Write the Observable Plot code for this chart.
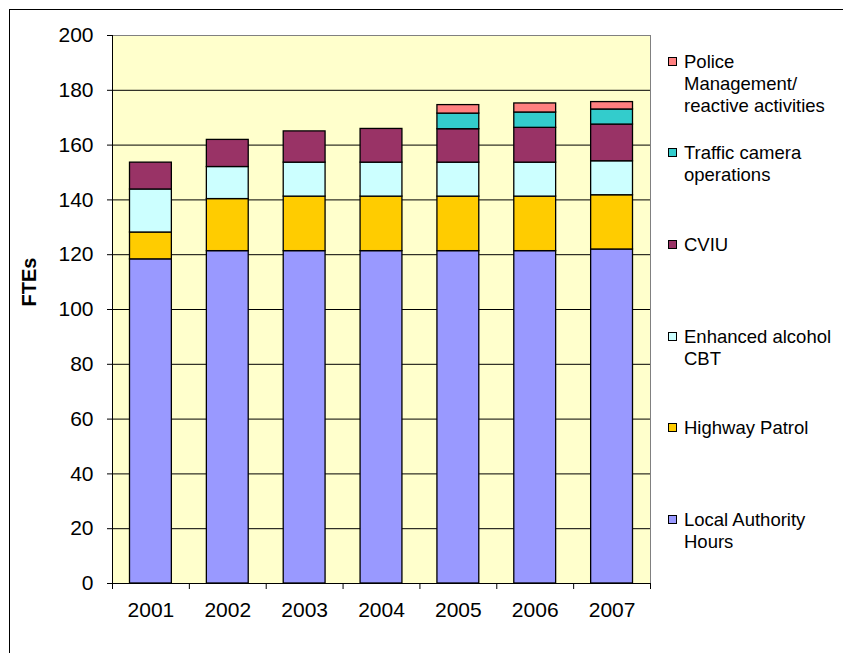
<!DOCTYPE html>
<html>
<head>
<meta charset="utf-8">
<script src="https://cdn.jsdelivr.net/npm/d3@7"></script>
<script src="https://cdn.jsdelivr.net/npm/@observablehq/plot@0.6"></script>
<style>
  html, body { margin: 0; padding: 0; background: #fff; overflow: hidden; }
  #wrap { position: relative; width: 843px; height: 653px; overflow: hidden; font-family: "Liberation Sans", Arial, sans-serif; }
  #wrap svg { position: absolute; left: 0; top: 0; }
  #border { position: absolute; left: 9px; top: 9px; width: 900px; height: 700px; border: 1px solid #000; box-sizing: border-box; }
  .item { position: absolute; left: 668px; font-size: 18.5px; line-height: 22px; color: #000; }
  .sw { position: absolute; left: 0; width: 9px; height: 9px; border: 1px solid #000; box-sizing: border-box; }
  .lbl { position: absolute; left: 16px; white-space: nowrap; }
</style>
</head>
<body>
<div id="wrap"><div id="border"></div></div>
<script>
const years = [2001, 2002, 2003, 2004, 2005, 2006, 2007];
const seriesNames = [
  "Local Authority Hours",
  "Highway Patrol",
  "Enhanced alcohol CBT",
  "CVIU",
  "Traffic camera operations",
  "Police Management/ reactive activities"
];
const seriesColors = ["#9999FF", "#FFCC00", "#CCFFFF", "#993366", "#33CCCC", "#FF8080"];
const localAuthority = [118.3, 121.3, 121.3, 121.3, 121.3, 121.3, 121.9];
const highwayPatrol  = [9.8, 19.0, 19.9, 19.9, 19.9, 19.9, 19.8];
const enhancedAlcohol = [15.7, 11.7, 12.4, 12.4, 12.4, 12.4, 12.4];
const cviu           = [9.8, 9.9, 11.4, 12.3, 12.2, 12.7, 13.4];
const trafficCamera  = [0, 0, 0, 0, 5.7, 5.6, 5.5];
const policeMgmt     = [0, 0, 0, 0, 3.1, 3.3, 2.7];
const yTicks = [0, 20, 40, 60, 80, 100, 120, 140, 160, 180, 200];
const legendLines = [
  ["Police", "Management/", "reactive activities"],
  ["Traffic camera", "operations"],
  ["CVIU"],
  ["Enhanced alcohol", "CBT"],
  ["Highway Patrol"],
  ["Local Authority", "Hours"]
];
const legendColors = ["#FF8080", "#33CCCC", "#993366", "#CCFFFF", "#FFCC00", "#9999FF"];
const legendCenters = [62, 153, 245, 337, 428, 520];

const seriesValues = [localAuthority, highwayPatrol, enhancedAlcohol, cviu, trafficCamera, policeMgmt];
const data = [];
seriesNames.forEach((s, i) => {
  years.forEach((yr, j) => {
    const v = seriesValues[i][j];
    if (v > 0) data.push({year: yr, series: s, value: v});
  });
});

const chart = Plot.plot({
  width: 843,
  height: 653,
  marginLeft: 112,
  marginRight: 193,
  marginTop: 35,
  marginBottom: 70,
  x: {domain: [2001, 2008]},
  y: {domain: [0, 200]},
  color: {domain: seriesNames, range: seriesColors},
  style: {fontFamily: "'Liberation Sans', Arial, sans-serif", fontSize: "21px", background: "transparent", color: "#000"},
  marks: [
    Plot.frame({fill: "#FFFFCC", stroke: null}),
    Plot.ruleY(yTicks.filter(t => t > 0 && t < 200), {stroke: "#000", strokeWidth: 1}),
    Plot.frame({stroke: "#808080", strokeWidth: 1}),
    Plot.rectY(data, {
      x1: "year",
      x2: d => d.year + 1,
      y: "value",
      fill: "series",
      order: seriesNames,
      stroke: "#000",
      strokeWidth: 1.3,
      insetLeft: 17.5,
      insetRight: 17.5
    }),
    Plot.ruleX([2001], {stroke: "#000", strokeWidth: 1}),
    Plot.ruleY([0], {stroke: "#000", strokeWidth: 1}),
    Plot.axisY({ticks: yTicks, tickSize: 5, tickPadding: 14, fontSize: 21, label: null}),
    Plot.axisX({ticks: d3.range(2001, 2009), tickSize: 6, tickFormat: () => "", label: null}),
    Plot.axisX({ticks: years.map(y => y + 0.5), tickSize: 0, tickPadding: 19, fontSize: 21,
      tickFormat: d => String(Math.floor(d)), label: null}),
    Plot.text(["FTEs"], {frameAnchor: "left", dx: -83, dy: -3, rotate: -90, fontWeight: "bold", fontSize: 20, fill: "#000"})
  ]
});

const wrap = document.getElementById("wrap");
wrap.appendChild(chart);

legendLines.forEach((lines, i) => {
  const item = document.createElement("div");
  item.className = "item";
  item.style.top = (legendCenters[i] - 11) + "px";
  const sw = document.createElement("div");
  sw.className = "sw";
  sw.style.background = legendColors[i];
  sw.style.top = "6px";
  item.appendChild(sw);
  const lbl = document.createElement("div");
  lbl.className = "lbl";
  lbl.innerHTML = lines.join("<br>");
  item.appendChild(lbl);
  wrap.appendChild(item);
});
</script>
</body>
</html>
